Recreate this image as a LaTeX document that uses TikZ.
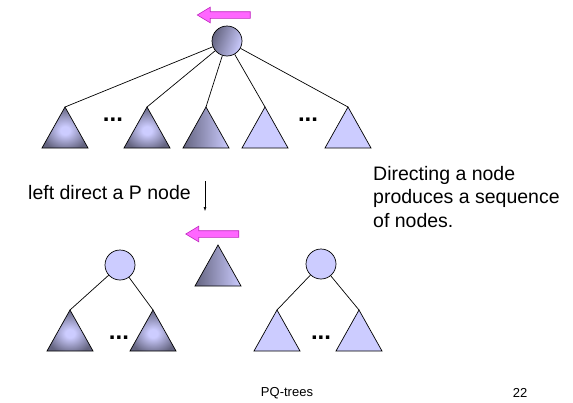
\documentclass[tikz,border=0pt]{standalone}
\usepackage{fontspec}
\setmainfont{Liberation Sans}
\usetikzlibrary{shapes.arrows,arrows.meta}

\definecolor{paleblue}{RGB}{204,204,255}
\definecolor{slate}{RGB}{100,100,128}
\definecolor{pinkfill}{RGB}{255,102,255}
\definecolor{pinkedge}{RGB}{190,40,190}

% shading of a subtree that is darker towards its edges
\pgfdeclareradialshading{edgedark}{\pgfpoint{0bp}{-4bp}}{%
  color(0bp)=(paleblue); color(5bp)=(paleblue); color(27bp)=(slate); color(50bp)=(slate)}

\tikzset{
  treeline/.style={draw=black, line width=0.7pt},
  pnode/.style={circle, draw=black, line width=0.7pt, minimum size=30pt, inner sep=0pt, fill=paleblue},
  flatfill/.style={fill=paleblue},
  sidefill/.style={left color=slate, right color=paleblue},
  edgefill/.style={shading=edgedark},
  dirarrow/.style={single arrow, draw=pinkedge, fill=pinkfill, line width=0.6pt,
    minimum height=53pt, minimum width=15pt, single arrow head extend=4.5pt,
    single arrow tip angle=62, inner xsep=0pt, inner ysep=3pt, shape border rotate=180},
  dots/.style={font=\fontsize{24}{24}\selectfont\bfseries, inner sep=0pt, anchor=base},
  label/.style={font=\fontsize{19.5}{23.5}\selectfont, inner sep=0pt, align=left},
}

% a subtree triangle: name, apex x, apex y, fill style
\newcommand\subtreetri[4]{%
  \coordinate (#1) at (#2,#3);
  \path[#4, treeline] (#1) -- ++(-23,41) -- ++(46,0) -- cycle;}

\begin{document}
\begin{tikzpicture}[x=1pt, y=-1pt]
  \useasboundingbox (0,0) rectangle (573,402);

  % upper tree: a P-node with its children
  \node[dirarrow] (dirtop) at (226.5,15) {};
  \node[pnode, left color=slate, right color=paleblue, shading angle=70] (root) at (227,41) {};
  \subtreetri{a1}{65}{107}{edgefill}
  \subtreetri{a2}{147}{107}{edgefill}
  \subtreetri{a3}{206}{107}{sidefill}
  \subtreetri{a4}{265}{107}{flatfill}
  \subtreetri{a5}{348}{107}{flatfill}
  \foreach \t in {a1,a2,a3,a4,a5} \draw[treeline] (root) -- (\t);
  \node[dots] (d1) at (113,121) {...};
  \node[dots] (d2) at (308,121) {...};

  % transition
  \node[label, anchor=west] (op) at (28,193) {left direct a P node};
  \coordinate (stepa) at (205,181);
  \coordinate (stepb) at (205,211);
  \draw[line width=0.5pt, -{Latex[length=4pt,width=3pt]}] (stepa) -- (stepb);
  \node[label, anchor=north west] (note) at (373,166)
    {Directing a node\\produces a sequence\\of nodes.};

  % lower row: the resulting sequence of nodes
  \node[dirarrow] (dirlow) at (215,234) {};
  \subtreetri{mid}{218}{245}{sidefill}

  \node[pnode] (lp) at (120,265) {};
  \subtreetri{b1}{70}{310}{edgefill}
  \subtreetri{b2}{153}{310}{edgefill}
  \draw[treeline] (lp) -- (b1);
  \draw[treeline] (lp) -- (b2);
  \node[dots] (d3) at (119,339) {...};

  \node[pnode] (rp) at (321,264) {};
  \subtreetri{c1}{277}{310}{flatfill}
  \subtreetri{c2}{359}{310}{flatfill}
  \draw[treeline] (rp) -- (c1);
  \draw[treeline] (rp) -- (c2);
  \node[dots] (d4) at (321,339) {...};

  % footer
  \node[font=\fontsize{13}{13}\selectfont] (title) at (287,393) {PQ-trees};
  \node[font=\fontsize{13}{13}\selectfont] (page) at (520,393) {22};
\end{tikzpicture}
\end{document}
